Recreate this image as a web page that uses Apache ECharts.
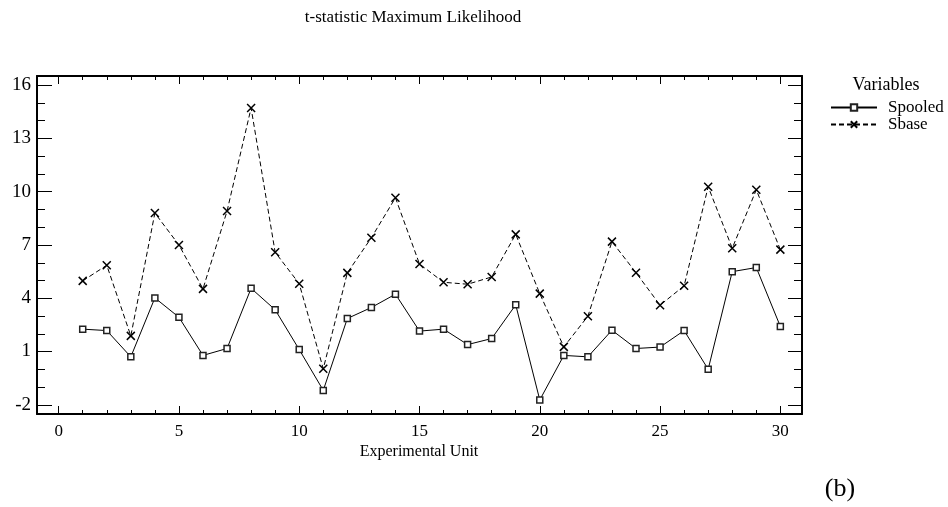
<!DOCTYPE html>
<html>
<head>
<meta charset="utf-8">
<script src="https://cdn.jsdelivr.net/npm/echarts@6/dist/echarts.min.js"></script>
<style>html,body{margin:0;padding:0;background:#fff}#c{width:948px;height:507px}</style>
</head>
<body>
<div id="c"></div>
<script>
const units = [1,2,3,4,5,6,7,8,9,10,11,12,13,14,15,16,17,18,19,20,21,22,23,24,25,26,27,28,29,30];
const spooled = [2.26,2.18,0.70,4.02,2.93,0.78,1.17,4.56,3.35,1.11,-1.19,2.86,3.48,4.23,2.15,2.26,1.39,1.73,3.63,-1.73,0.78,0.70,2.20,1.17,1.25,2.18,0.0,5.50,5.73,2.41];
const sbase = [4.98,5.86,1.88,8.80,7.00,4.53,8.91,14.72,6.59,4.82,0.03,5.43,7.41,9.66,5.93,4.90,4.79,5.20,7.60,4.26,1.26,2.99,7.19,5.44,3.61,4.70,10.28,6.82,10.11,6.74];
const xTicks = [0,5,10,15,20,25,30];
const xMinor = [0,1,2,3,4,5,6,7,8,9,10,11,12,13,14,15,16,17,18,19,20,21,22,23,24,25,26,27,28,29,30];
const yTicks = [-2,1,4,7,10,13,16];
const yMinor = [-2,-1,0,1,2,3,4,5,6,7,8,9,10,11,12,13,14,15,16];
const seriesNames = ['Spooled','Sbase'];

const FONT = 'Liberation Serif';
const XMIN = -0.9, XMAX = 30.9, YMIN = -2.52, YMAX = 16.52;

function xa(pos, major, labels, line) {
  return {
    type: 'value', position: pos, min: XMIN, max: XMAX,
    splitLine: {show: false},
    axisLine: {show: line, onZero: false, lineStyle: {color: '#000', width: 2}},
    axisTick: {show: true, inside: true, length: major ? 8 : 4, customValues: major ? xTicks : xMinor, lineStyle: {color: '#000', width: 1}},
    axisLabel: {show: labels, customValues: xTicks, margin: 9, color: '#000', fontFamily: FONT, fontSize: 17}
  };
}
function ya(pos, major, labels, line, len) {
  return {
    type: 'value', position: pos, min: YMIN, max: YMAX,
    splitLine: {show: false},
    axisLine: {show: line, onZero: false, lineStyle: {color: '#000', width: 2}},
    axisTick: {show: true, inside: true, length: len, customValues: major ? yTicks : yMinor, lineStyle: {color: '#000', width: 1}},
    axisLabel: {show: labels, customValues: yTicks, margin: 6, color: '#000', fontFamily: FONT, fontSize: 19}
  };
}

const xSymbol = 'path://M0,0L10,10M10,0L0,10';

const chart = echarts.init(document.getElementById('c'), null, {renderer: 'canvas'});
chart.setOption({
  animation: false,
  backgroundColor: '#fff',
  grid: {left: 37, right: 146, top: 76, bottom: 93, containLabel: false},
  xAxis: [xa('bottom', true, true, true), xa('bottom', false, false, false), xa('top', true, false, true), xa('top', false, false, false)],
  yAxis: [ya('left', true, true, true, 15), ya('left', false, false, false, 8), ya('right', true, false, true, 14), ya('right', false, false, false, 8)],
  legend: {
    orient: 'vertical', left: 825, top: 94, itemWidth: 46, itemHeight: 8, itemGap: 0,
    textStyle: {color: '#000', fontFamily: FONT, fontSize: 17, lineHeight: 17, padding: [0, 0, 0, 6]},
    data: seriesNames
  },
  series: [
    {
      name: seriesNames[0], type: 'line', xAxisIndex: 0, yAxisIndex: 0,
      data: units.map((u, i) => [u, spooled[i]]),
      symbol: 'rect', symbolSize: 6,
      lineStyle: {color: '#000', width: 1, type: 'solid'},
      itemStyle: {color: '#fff', borderColor: '#222', borderWidth: 1.5}
    },
    {
      name: seriesNames[1], type: 'line', xAxisIndex: 0, yAxisIndex: 0,
      data: units.map((u, i) => [u, sbase[i]]),
      symbol: xSymbol, symbolSize: 8,
      lineStyle: {color: '#000', width: 1, type: [5, 3]},
      itemStyle: {color: 'none', borderColor: '#000', borderWidth: 1.5}
    }
  ],
  graphic: [
    {type: 'text', style: {text: 't-statistic Maximum Likelihood', x: 413, y: 18, align: 'center', verticalAlign: 'middle', fill: '#000', font: '17px "Liberation Serif"'}},
    {type: 'text', style: {text: 'Experimental Unit', x: 419, y: 452, align: 'center', verticalAlign: 'middle', fill: '#000', font: '16px "Liberation Serif"'}},
    {type: 'text', style: {text: 'Variables', x: 886, y: 85, align: 'center', verticalAlign: 'middle', fill: '#000', font: '18px "Liberation Serif"'}},
    {type: 'text', style: {text: '(b)', x: 840, y: 489, align: 'center', verticalAlign: 'middle', fill: '#000', font: '26px "Liberation Serif"'}}
  ]
});
</script>
</body>
</html>
